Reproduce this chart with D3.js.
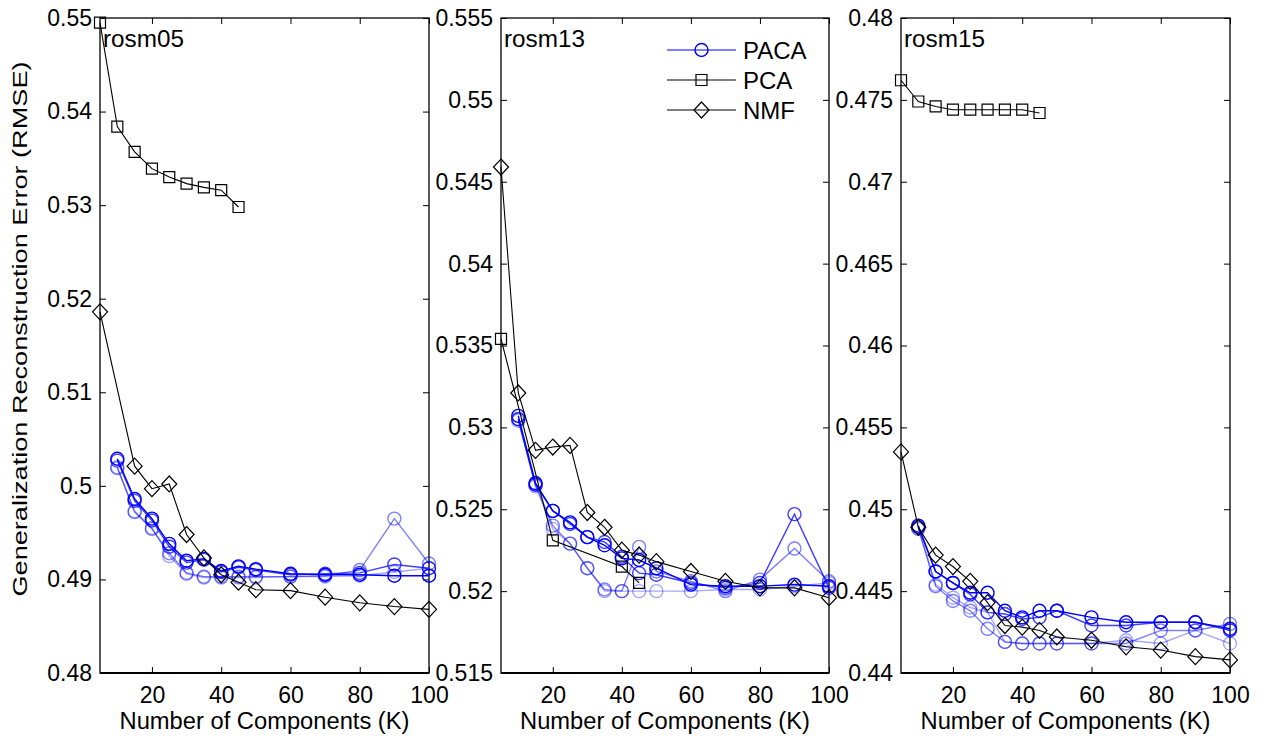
<!DOCTYPE html>
<html><head><meta charset="utf-8">
<script src="https://cdn.jsdelivr.net/npm/d3@7"></script>
<style>
body{margin:0;background:#fff}
text{font-family:"Liberation Sans",Arial,Helvetica,sans-serif;fill:#000}
</style>
</head><body>
<svg id="chart" width="1269" height="740"></svg>
<script>
// ---------- data ----------
const panelNames = ["rosm05", "rosm13", "rosm15"];
const xTicks = [20, 40, 60, 80, 100];
const yTicks05 = [0.48, 0.49, 0.5, 0.51, 0.52, 0.53, 0.54, 0.55];
const yTicks13 = [0.515, 0.52, 0.525, 0.53, 0.535, 0.54, 0.545, 0.55, 0.555];
const yTicks15 = [0.44, 0.445, 0.45, 0.455, 0.46, 0.465, 0.47, 0.475, 0.48];
const legendLabels = ["PACA", "PCA", "NMF"];

const kPACA = [10, 15, 20, 25, 30, 35, 40, 45, 50, 60, 70, 80, 90, 100];
const runOpacity = [1, 0.75, 0.5, 0.35];

// rosm05
const paca05_run1 = [0.5029, 0.4986, 0.4965, 0.4938, 0.4920, 0.4922, 0.4909, 0.4914, 0.4911, 0.4906, 0.4905, 0.4905, 0.4904, 0.4904];
const paca05_run2 = [0.5027, 0.4984, 0.4963, 0.4935, 0.4918, 0.4921, 0.4908, 0.4913, 0.4910, 0.4905, 0.4906, 0.4907, 0.4916, 0.4912];
const paca05_run3 = [0.5019, 0.4972, 0.4954, 0.4928, 0.4907, 0.4903, 0.4903, 0.4903, 0.4903, 0.4903, 0.4904, 0.4910, 0.4965, 0.4917];
const paca05_run4 = [0.5020, 0.4973, 0.4955, 0.4925, 0.4906, 0.4902, 0.4902, 0.4902, 0.4902, 0.4903, 0.4903, 0.4904, 0.4908, 0.4912];
const kPCA05 = [5, 10, 15, 20, 25, 30, 35, 40, 45];
const pca05 = [0.5495, 0.5384, 0.5357, 0.5339, 0.5330, 0.5323, 0.5319, 0.5316, 0.5298];
const kNMF05 = [5, 15, 20, 25, 30, 35, 40, 45, 50, 60, 70, 80, 90, 100];
const nmf05 = [0.5186, 0.5021, 0.4997, 0.5002, 0.4948, 0.4923, 0.4905, 0.4897, 0.4889, 0.4888, 0.4881, 0.4875, 0.4871, 0.4868];

// rosm13
const paca13_run1 = [0.5307, 0.5266, 0.5249, 0.5242, 0.5233, 0.5228, 0.5220, 0.5219, 0.5214, 0.5204, 0.5203, 0.5203, 0.5204, 0.5203];
const paca13_run2 = [0.5305, 0.5265, 0.5249, 0.5241, 0.5233, 0.5230, 0.5221, 0.5211, 0.5210, 0.5205, 0.5202, 0.5205, 0.5247, 0.5202];
const paca13_run3 = [0.5305, 0.5265, 0.5240, 0.5229, 0.5214, 0.5201, 0.5200, 0.5227, 0.5212, 0.5206, 0.5200, 0.5207, 0.5226, 0.5206];
const paca13_run4 = [0.5304, 0.5264, 0.5238, 0.5229, 0.5214, 0.5200, 0.5200, 0.5200, 0.5200, 0.5200, 0.5201, 0.5201, 0.5203, 0.5205];
const kPCA13 = [5, 20, 40, 45];
const pca13 = [0.5354, 0.5231, 0.5215, 0.5205];
const kNMF13 = [5, 10, 15, 20, 25, 30, 35, 40, 45, 50, 60, 70, 80, 90, 100];
const nmf13 = [0.5459, 0.5321, 0.5286, 0.5288, 0.5289, 0.5248, 0.5239, 0.5225, 0.5222, 0.5218, 0.5212, 0.5206, 0.5202, 0.5202, 0.5196];

// rosm15
const paca15_run1 = [0.4490, 0.4462, 0.4455, 0.4449, 0.4449, 0.4438, 0.4434, 0.4438, 0.4438, 0.4434, 0.4431, 0.4431, 0.4431, 0.4427];
const paca15_run2 = [0.4489, 0.4462, 0.4455, 0.4448, 0.4437, 0.4436, 0.4433, 0.4434, 0.4438, 0.4429, 0.4429, 0.4431, 0.4431, 0.4426];
const paca15_run3 = [0.4488, 0.4453, 0.4444, 0.4438, 0.4427, 0.4419, 0.4418, 0.4418, 0.4418, 0.4418, 0.4418, 0.4426, 0.4426, 0.4430];
const paca15_run4 = [0.4489, 0.4454, 0.4446, 0.4440, 0.4437, 0.4419, 0.4418, 0.4418, 0.4418, 0.4418, 0.4420, 0.4418, 0.4426, 0.4418];
const kPCA15 = [5, 10, 15, 20, 25, 30, 35, 40, 45];
const pca15 = [0.4762, 0.4749, 0.4746, 0.4744, 0.4744, 0.4744, 0.4744, 0.4744, 0.4742];
const kNMF15 = [5, 10, 15, 20, 25, 30, 35, 40, 45, 50, 60, 70, 80, 90, 100];
const nmf15 = [0.4535, 0.4489, 0.4472, 0.4465, 0.4456, 0.4443, 0.4429, 0.4428, 0.4426, 0.4422, 0.4420, 0.4416, 0.4414, 0.4410, 0.4408];

// ---------- build panels ----------
const panels = [
  {name: panelNames[0], yTicks: yTicks05, paca: [paca05_run1, paca05_run2, paca05_run3, paca05_run4],
   kPCA: kPCA05, pca: pca05, kNMF: kNMF05, nmf: nmf05, left: 100, right: 429},
  {name: panelNames[1], yTicks: yTicks13, paca: [paca13_run1, paca13_run2, paca13_run3, paca13_run4],
   kPCA: kPCA13, pca: pca13, kNMF: kNMF13, nmf: nmf13, left: 501, right: 829, legend: true},
  {name: panelNames[2], yTicks: yTicks15, paca: [paca15_run1, paca15_run2, paca15_run3, paca15_run4],
   kPCA: kPCA15, pca: pca15, kNMF: kNMF15, nmf: nmf15, left: 901, right: 1230}
];

const TOP = 18, BOTTOM = 673, TICK = 6, FS = 23;
const BLUE = "#0000ff";
const svg = d3.select("#chart");
const fmt = d3.format(".3~f");

const squarePath = s => `M${-s},${-s}h${2*s}v${2*s}h${-2*s}Z`;
const diamondPath = (w, h) => `M0,${-h}L${w},0L0,${h}L${-w},0Z`;

function drawMarkers(g, pts, type, color, opacity) {
  const sel = g.selectAll(null).data(pts).enter();
  if (type === "circle") {
    sel.append("circle").attr("cx", d => d[0]).attr("cy", d => d[1]).attr("r", 6.5)
      .attr("fill", "none").attr("stroke", color).attr("stroke-width", 1.4).attr("stroke-opacity", opacity);
  } else if (type === "square") {
    sel.append("path").attr("d", squarePath(5.5)).attr("transform", d => `translate(${d[0]},${d[1]})`)
      .attr("fill", "none").attr("stroke", color).attr("stroke-width", 1.2);
  } else {
    sel.append("path").attr("d", diamondPath(7.5, 8)).attr("transform", d => `translate(${d[0]},${d[1]})`)
      .attr("fill", "none").attr("stroke", color).attr("stroke-width", 1.2);
  }
}

panels.forEach(p => {
  const x = d3.scaleLinear().domain([5, 100]).range([p.left, p.right]);
  const y = d3.scaleLinear().domain([p.yTicks[0], p.yTicks[p.yTicks.length - 1]]).range([BOTTOM, TOP]);
  const g = svg.append("g");

  g.append("rect").attr("x", p.left).attr("y", TOP).attr("width", p.right - p.left).attr("height", BOTTOM - TOP).attr("fill", "#fff");

  const xAxisB = d3.axisBottom(x).tickValues(xTicks).tickSizeInner(-TICK).tickSizeOuter(0).tickFormat(d3.format("d"));
  const xAxisT = d3.axisTop(x).tickValues(xTicks).tickSizeInner(-TICK).tickSizeOuter(0).tickFormat("");
  const yAxisL = d3.axisLeft(y).tickValues(p.yTicks).tickSizeInner(-TICK).tickSizeOuter(0).tickPadding(8).tickFormat(fmt);
  const yAxisR = d3.axisRight(y).tickValues(p.yTicks).tickSizeInner(-TICK).tickSizeOuter(0).tickFormat("");

  const axes = [
    g.append("g").attr("transform", `translate(0,${BOTTOM})`).call(xAxisB),
    g.append("g").attr("transform", `translate(0,${TOP})`).call(xAxisT),
    g.append("g").attr("transform", `translate(${p.left},0)`).call(yAxisL),
    g.append("g").attr("transform", `translate(${p.right},0)`).call(yAxisR)
  ];
  axes.forEach(a => {
    a.select(".domain").remove();
    a.selectAll("line").attr("stroke", "#000").attr("stroke-width", 1);
    a.selectAll("text").attr("font-size", FS).attr("font-family", '"Liberation Sans",Arial,sans-serif').attr("fill", "#000");
  });
  axes[0].selectAll("text").attr("dy", null).attr("y", 30);

  g.append("rect").attr("x", p.left).attr("y", TOP).attr("width", p.right - p.left).attr("height", BOTTOM - TOP)
    .attr("fill", "none").attr("stroke", "#000").attr("stroke-width", 1.3);
  g.append("line").attr("x1", p.left).attr("x2", p.right).attr("y1", BOTTOM).attr("y2", BOTTOM)
    .attr("stroke", "#000").attr("stroke-width", 2);

  const line = d3.line().x(d => d[0]).y(d => d[1]);
  for (let r = p.paca.length - 1; r >= 0; r--) {
    const pts = kPACA.map((k, i) => [x(k), y(p.paca[r][i])]);
    g.append("path").attr("d", line(pts)).attr("fill", "none").attr("stroke", BLUE)
      .attr("stroke-width", 1.4).attr("stroke-opacity", runOpacity[r]);
    drawMarkers(g, pts, "circle", BLUE, runOpacity[r]);
  }
  const pcaPts = p.kPCA.map((k, i) => [x(k), y(p.pca[i])]);
  g.append("path").attr("d", line(pcaPts)).attr("fill", "none").attr("stroke", "#000").attr("stroke-width", 1.1);
  drawMarkers(g, pcaPts, "square", "#000", 1);
  const nmfPts = p.kNMF.map((k, i) => [x(k), y(p.nmf[i])]);
  g.append("path").attr("d", line(nmfPts)).attr("fill", "none").attr("stroke", "#000").attr("stroke-width", 1.1);
  drawMarkers(g, nmfPts, "diamond", "#000", 1);

  g.append("text").attr("x", p.left + 3).attr("y", 47).attr("font-size", 23.5)
    .attr("textLength", 81).attr("lengthAdjust", "spacingAndGlyphs").text(p.name);

  g.append("text").attr("x", (p.left + p.right) / 2).attr("y", 729).attr("text-anchor", "middle")
    .attr("font-size", FS).attr("textLength", 290).attr("lengthAdjust", "spacingAndGlyphs")
    .text("Number of Components (K)");

  if (p.legend) {
    const lx0 = 667, lx1 = 736, tx = 743;
    const types = ["circle", "square", "diamond"];
    const cols = [BLUE, "#000", "#000"];
    legendLabels.forEach((lab, i) => {
      const yy = 50 + i * 30;
      g.append("line").attr("x1", lx0).attr("x2", lx1).attr("y1", yy).attr("y2", yy)
        .attr("stroke", cols[i]).attr("stroke-width", 1.2);
      drawMarkers(g, [[(lx0 + lx1) / 2, yy]], types[i], cols[i], 1);
      g.append("text").attr("x", tx).attr("y", yy).attr("dy", "0.36em").attr("font-size", 24).text(lab);
    });
  }
});

svg.append("text").attr("transform", "translate(27,329) rotate(-90)").attr("text-anchor", "middle")
  .attr("font-size", 21).attr("textLength", 535).attr("lengthAdjust", "spacingAndGlyphs")
  .text("Generalization Reconstruction Error (RMSE)");
</script>
</body></html>
